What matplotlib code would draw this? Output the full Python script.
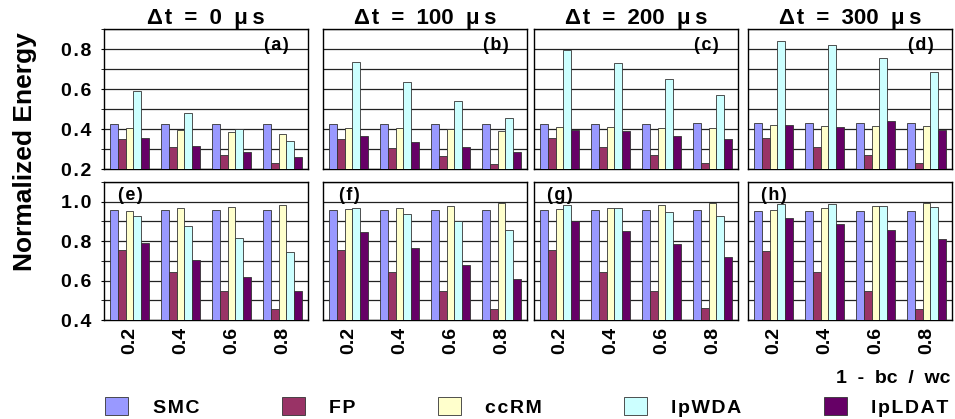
import matplotlib
matplotlib.use("Agg")
import matplotlib.pyplot as plt
import numpy as np
from matplotlib.patches import Patch

plt.rcParams['font.family'] = ['Liberation Sans', 'DejaVu Sans']
plt.rcParams['font.weight'] = 'bold'

categories = ["0.2", "0.4", "0.6", "0.8"]
series = ["SMC", "FP", "ccRM", "lpWDA", "lpLDAT"]
colors = ["#9999FF", "#993366", "#FFFFCC", "#CCFFFF", "#660066"]
titles = ["Δt = 0 μs", "Δt = 100 μs", "Δt = 200 μs", "Δt = 300 μs"]
top_labels = ["(a)", "(b)", "(c)", "(d)"]
bot_labels = ["(e)", "(f)", "(g)", "(h)"]

top_a = {"SMC": [0.425, 0.425, 0.425, 0.427], "FP": [0.350, 0.308, 0.270, 0.232],
         "ccRM": [0.403, 0.393, 0.383, 0.375], "lpWDA": [0.590, 0.480, 0.398, 0.338],
         "lpLDAT": [0.355, 0.317, 0.285, 0.260]}
top_b = {"SMC": [0.424, 0.424, 0.424, 0.424], "FP": [0.350, 0.306, 0.267, 0.227],
         "ccRM": [0.406, 0.406, 0.399, 0.390], "lpWDA": [0.733, 0.637, 0.540, 0.456],
         "lpLDAT": [0.364, 0.333, 0.310, 0.286]}
top_c = {"SMC": [0.427, 0.427, 0.427, 0.428], "FP": [0.353, 0.309, 0.270, 0.230],
         "ccRM": [0.411, 0.411, 0.406, 0.405], "lpWDA": [0.796, 0.729, 0.648, 0.571],
         "lpLDAT": [0.396, 0.390, 0.363, 0.351]}
top_d = {"SMC": [0.428, 0.428, 0.428, 0.428], "FP": [0.354, 0.309, 0.269, 0.232],
         "ccRM": [0.418, 0.414, 0.413, 0.413], "lpWDA": [0.840, 0.818, 0.754, 0.684],
         "lpLDAT": [0.418, 0.409, 0.440, 0.393]}

bot_e = {"SMC": [0.958, 0.958, 0.958, 0.958], "FP": [0.754, 0.643, 0.547, 0.454],
         "ccRM": [0.955, 0.967, 0.972, 0.982], "lpWDA": [0.928, 0.877, 0.818, 0.747],
         "lpLDAT": [0.793, 0.704, 0.616, 0.547]}
bot_f = {"SMC": [0.958, 0.958, 0.958, 0.958], "FP": [0.754, 0.645, 0.547, 0.454],
         "ccRM": [0.962, 0.970, 0.980, 0.992], "lpWDA": [0.968, 0.940, 0.903, 0.859],
         "lpLDAT": [0.845, 0.763, 0.678, 0.607]}
bot_g = {"SMC": [0.958, 0.958, 0.958, 0.958], "FP": [0.755, 0.646, 0.549, 0.459],
         "ccRM": [0.963, 0.970, 0.983, 0.995], "lpWDA": [0.981, 0.968, 0.948, 0.926],
         "lpLDAT": [0.900, 0.849, 0.785, 0.722]}
bot_h = {"SMC": [0.954, 0.954, 0.954, 0.954], "FP": [0.752, 0.643, 0.548, 0.455],
         "ccRM": [0.960, 0.970, 0.979, 0.994], "lpWDA": [0.990, 0.987, 0.980, 0.975],
         "lpLDAT": [0.918, 0.885, 0.855, 0.809]}

top_data = [top_a, top_b, top_c, top_d]
bot_data = [bot_e, bot_f, bot_g, bot_h]

W, H = 955, 419
fig = plt.figure(figsize=(W / 100, H / 100), dpi=100)

col_left = [104, 323, 534, 748]
col_w = 204
top_row = (29, 169)
bot_row = (182, 320)

HS = "\u200a"

def spaced(s):
    return HS.join(s)

def make_ax(left, top, bottom):
    return fig.add_axes([left / W, (H - bottom) / H, col_w / W, (bottom - top) / H])

bw = 0.155
x = np.arange(len(categories))

def draw(ax, data, ylim, yticks, show_y, show_x):
    ax.set_xlim(-0.5, len(categories) - 0.5)
    ax.set_ylim(*ylim)
    for i, s in enumerate(series):
        ax.bar(x + (i - 2) * bw, data[s], width=bw, color=colors[i],
               edgecolor="#333333", linewidth=0.6, zorder=3)
    grid = np.round(np.arange(ylim[0], ylim[1] + 1e-9, 0.1), 2)
    ax.set_yticks(grid, minor=True)
    ax.set_yticks(yticks)
    ax.yaxis.grid(True, which="both", color="#222222", linewidth=0.9, zorder=0)
    ax.set_axisbelow(True)
    for sp in ax.spines.values():
        sp.set_color("black")
        sp.set_linewidth(1.0)
    ax.tick_params(axis="y", which="both", length=2, direction="out", pad=7,
                   labelsize=14)
    if show_y:
        ax.set_yticklabels([spaced(f"{t:.1f}") for t in yticks], fontweight="bold")
    else:
        ax.set_yticklabels([])
        ax.tick_params(axis="y", which="both", length=0)
    ax.set_xticks(x)
    ax.tick_params(axis="x", length=0, pad=5, labelsize=14)
    if show_x:
        ax.set_xticklabels(categories, rotation=90, fontweight="bold")
    else:
        ax.set_xticklabels([])

for c in range(4):
    ax = make_ax(col_left[c], *top_row)
    draw(ax, top_data[c], (0.2, 0.9), [0.2, 0.4, 0.6, 0.8], c == 0, False)
    t = titles[c].replace("μs", "μ\u2009s").replace("Δt", "Δ" + HS + "t").replace(" = ", "  =  ").replace(" μ", "  μ")
    ax.set_title(t, fontsize=16, fontweight="bold", pad=1)
    ax.text(0.845, 0.88, spaced(top_labels[c]), transform=ax.transAxes, ha="center",
            va="center", fontsize=13, fontweight="bold")

for c in range(4):
    ax = make_ax(col_left[c], *bot_row)
    draw(ax, bot_data[c], (0.4, 1.1), [0.4, 0.6, 0.8, 1.0], c == 0, True)
    ax.text(0.127, 0.905, spaced(bot_labels[c]), transform=ax.transAxes, ha="center",
            va="center", fontsize=13, fontweight="bold")

fig.text(25 / W, 1 - 152 / H, "Normalized Energy", rotation=90, ha="center",
         va="center", fontsize=19, fontweight="bold")
fig.text(950 / W, 1 - 378 / H, "1  -  bc  /  wc", ha="right", va="center",
         fontsize=14, fontweight="bold")

handles = [Patch(facecolor=colors[i], edgecolor="#333333", linewidth=0.6)
           for i in range(len(series))]
lab = [spaced(s) for s in series]
fig.legend(handles, lab, loc="center", bbox_to_anchor=(527 / W, 1 - 407 / H),
           ncol=5, frameon=False, handlelength=1.18,
           handleheight=1.03, handletextpad=1.24, columnspacing=4.25,
           prop={"weight": "bold", "size": 14}, borderpad=0, borderaxespad=0)

fig.savefig("out.png", dpi=100)
